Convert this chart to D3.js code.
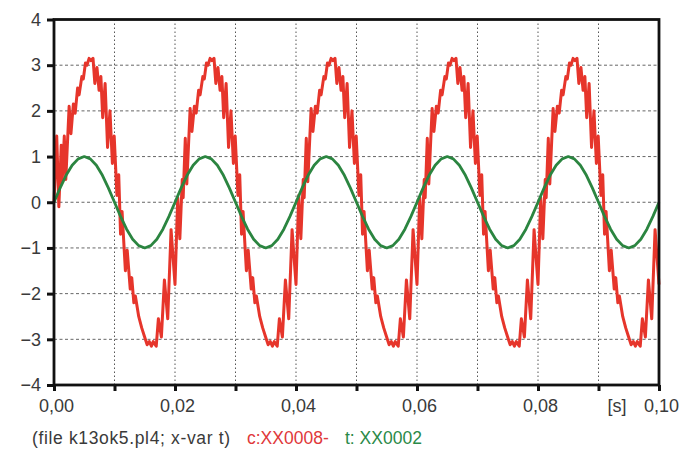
<!DOCTYPE html>
<html>
<head>
<meta charset="utf-8">
<script src="https://cdn.jsdelivr.net/npm/d3@7"></script>
<style>
  body { margin: 0; background: #fff; }
  svg { display: block; font-family: "Liberation Sans", Arial, sans-serif; }
</style>
</head>
<body>
<div id="chart"></div>
<script>
// time in ms
const redTime = [
  0, 0.45, 0.8, 1.2, 1.35, 1.7, 1.95, 2.5, 2.8, 3.2, 3.5, 3.9, 4.15, 4.6, 4.85, 5.2, 5.45, 5.8, 6.1, 6.45, 6.75, 7.1, 7.45, 7.75, 8.05, 8.45, 8.85, 9.25, 9.65, 9.95, 10.4, 10.7, 11.0, 11.25, 11.8, 12.1, 12.6, 12.85, 13.2, 13.45, 14.0, 14.5, 15.1, 15.4, 15.75, 16.1, 16.4, 16.9, 17.25, 17.75, 18.25, 18.8, 19.35,
  20, 20.45, 20.8, 21.2, 21.35, 21.7, 21.95, 22.5, 22.8, 23.2, 23.5, 23.9, 24.15, 24.6, 24.85, 25.2, 25.45, 25.8, 26.1, 26.45, 26.75, 27.1, 27.45, 27.75, 28.05, 28.45, 28.85, 29.25, 29.65, 29.95, 30.4, 30.7, 31.0, 31.25, 31.8, 32.1, 32.6, 32.85, 33.2, 33.45, 34.0, 34.5, 35.1, 35.4, 35.75, 36.1, 36.4, 36.9, 37.25, 37.75, 38.25, 38.8, 39.35,
  40, 40.45, 40.8, 41.2, 41.35, 41.7, 41.95, 42.5, 42.8, 43.2, 43.5, 43.9, 44.15, 44.6, 44.85, 45.2, 45.45, 45.8, 46.1, 46.45, 46.75, 47.1, 47.45, 47.75, 48.05, 48.45, 48.85, 49.25, 49.65, 49.95, 50.4, 50.7, 51.0, 51.25, 51.8, 52.1, 52.6, 52.85, 53.2, 53.45, 54.0, 54.5, 55.1, 55.4, 55.75, 56.1, 56.4, 56.9, 57.25, 57.75, 58.25, 58.8, 59.35,
  60, 60.45, 60.8, 61.2, 61.35, 61.7, 61.95, 62.5, 62.8, 63.2, 63.5, 63.9, 64.15, 64.6, 64.85, 65.2, 65.45, 65.8, 66.1, 66.45, 66.75, 67.1, 67.45, 67.75, 68.05, 68.45, 68.85, 69.25, 69.65, 69.95, 70.4, 70.7, 71.0, 71.25, 71.8, 72.1, 72.6, 72.85, 73.2, 73.45, 74.0, 74.5, 75.1, 75.4, 75.75, 76.1, 76.4, 76.9, 77.25, 77.75, 78.25, 78.8, 79.35,
  80, 80.45, 80.8, 81.2, 81.35, 81.7, 81.95, 82.5, 82.8, 83.2, 83.5, 83.9, 84.15, 84.6, 84.85, 85.2, 85.45, 85.8, 86.1, 86.45, 86.75, 87.1, 87.45, 87.75, 88.05, 88.45, 88.85, 89.25, 89.65, 89.95, 90.4, 90.7, 91.0, 91.25, 91.8, 92.1, 92.6, 92.85, 93.2, 93.45, 94.0, 94.5, 95.1, 95.4, 95.75, 96.1, 96.4, 96.9, 97.25, 97.75, 98.25, 98.8, 99.35, 100
];
const redValue = [
  0.0, 1.45, -0.1, 1.25, 0.45, 1.45, 0.5, 2.1, 1.5, 2.15, 1.95, 2.5, 2.35, 2.75, 2.7, 3.05, 3.0, 3.15, 3.1, 3.15, 2.6, 2.95, 2.45, 2.75, 1.85, 2.6, 1.2, 2.0, 0.85, 1.45, 0.15, 0.6, -0.7, -0.2, -1.5, -1.05, -1.9, -1.65, -2.2, -2.05, -2.5, -2.75, -3.0, -3.12, -3.05, -3.15, -3.05, -3.15, -2.55, -2.95, -1.7, -2.55, -0.6,
  -1.8, 0.1, -0.8, 0.5, 0.1, 1.4, 0.4, 2.05, 1.55, 2.1, 1.95, 2.45, 2.35, 2.75, 2.7, 3.05, 3.0, 3.15, 3.1, 3.15, 2.6, 2.95, 2.45, 2.75, 1.85, 2.6, 1.2, 2.0, 0.85, 1.45, 0.15, 0.6, -0.7, -0.2, -1.5, -1.05, -1.9, -1.65, -2.2, -2.05, -2.5, -2.75, -3.0, -3.12, -3.05, -3.15, -3.05, -3.15, -2.55, -2.95, -1.7, -2.55, -0.6,
  -1.8, 0.15, -0.8, 0.5, 0.1, 1.4, 0.45, 2.05, 1.55, 2.1, 1.95, 2.45, 2.35, 2.75, 2.7, 3.05, 3.0, 3.15, 3.1, 3.15, 2.6, 2.95, 2.45, 2.75, 1.85, 2.6, 1.2, 2.0, 0.85, 1.45, 0.15, 0.6, -0.7, -0.2, -1.5, -1.05, -1.9, -1.65, -2.2, -2.05, -2.5, -2.75, -3.0, -3.12, -3.05, -3.15, -3.05, -3.15, -2.55, -2.95, -1.7, -2.55, -0.6,
  -1.8, 0.1, -0.8, 0.5, 0.1, 1.4, 0.4, 2.05, 1.55, 2.1, 1.95, 2.45, 2.35, 2.75, 2.7, 3.05, 3.0, 3.15, 3.1, 3.15, 2.6, 2.95, 2.45, 2.75, 1.85, 2.6, 1.2, 2.0, 0.85, 1.45, 0.15, 0.6, -0.7, -0.2, -1.5, -1.05, -1.9, -1.65, -2.2, -2.05, -2.5, -2.75, -3.0, -3.12, -3.05, -3.15, -3.05, -3.15, -2.55, -2.95, -1.7, -2.55, -0.6,
  -1.8, 0.1, -0.8, 0.5, 0.1, 1.4, 0.4, 2.05, 1.55, 2.1, 1.95, 2.45, 2.35, 2.75, 2.7, 3.05, 3.0, 3.15, 3.1, 3.15, 2.6, 2.95, 2.45, 2.75, 1.85, 2.6, 1.2, 2.0, 0.85, 1.45, 0.15, 0.6, -0.7, -0.2, -1.5, -1.05, -1.9, -1.65, -2.2, -2.05, -2.5, -2.75, -3.0, -3.12, -3.05, -3.15, -3.05, -3.15, -2.55, -2.95, -1.7, -2.55, -0.6, -1.8
];
// green trace sampled every 1 ms
const greenValue = [
  0, 0.31, 0.59, 0.81, 0.95, 1, 0.95, 0.81, 0.59, 0.31, 0, -0.31, -0.59, -0.81, -0.95, -1, -0.95, -0.81, -0.59, -0.31,
  0, 0.31, 0.59, 0.81, 0.95, 1, 0.95, 0.81, 0.59, 0.31, 0, -0.31, -0.59, -0.81, -0.95, -1, -0.95, -0.81, -0.59, -0.31,
  0, 0.31, 0.59, 0.81, 0.95, 1, 0.95, 0.81, 0.59, 0.31, 0, -0.31, -0.59, -0.81, -0.95, -1, -0.95, -0.81, -0.59, -0.31,
  0, 0.31, 0.59, 0.81, 0.95, 1, 0.95, 0.81, 0.59, 0.31, 0, -0.31, -0.59, -0.81, -0.95, -1, -0.95, -0.81, -0.59, -0.31,
  0, 0.31, 0.59, 0.81, 0.95, 1, 0.95, 0.81, 0.59, 0.31, 0, -0.31, -0.59, -0.81, -0.95, -1, -0.95, -0.81, -0.59, -0.31,
  0
];
const greenTime = d3.range(0, greenValue.length);

const xTicks = [0, 10, 20, 30, 40, 50, 60, 70, 80, 90, 100];
const xTickLabels = {0: "0,00", 20: "0,02", 40: "0,04", 60: "0,06", 80: "0,08", 100: "0,10"};
const yTicks = [-4, -3, -2, -1, 0, 1, 2, 3, 4];

const W = 700, H = 464;
const plotLeft = 54, plotRight = 659, plotTop = 19.5, plotBottom = 385;

const svg = d3.select("#chart").append("svg")
  .attr("width", W)
  .attr("height", H);

const x = d3.scaleLinear().domain([0, 100]).range([plotLeft, plotRight]);
const y = d3.scaleLinear().domain([-4, 4]).range([plotBottom, plotTop]);

// grid
svg.append("g")
  .selectAll("line")
  .data(xTicks.slice(1, -1))
  .join("line")
  .attr("x1", d => x(d)).attr("x2", d => x(d))
  .attr("y1", plotTop).attr("y2", plotBottom)
  .attr("stroke", "#555")
  .attr("stroke-width", 1)
  .attr("stroke-dasharray", "1.5,2.5");

svg.append("g")
  .selectAll("line")
  .data(yTicks.slice(1, -1))
  .join("line")
  .attr("x1", plotLeft).attr("x2", plotRight)
  .attr("y1", d => y(d)).attr("y2", d => y(d))
  .attr("stroke", "#666")
  .attr("stroke-width", 1)
  .attr("stroke-dasharray", "3,2.5");

// traces
const line = d3.line().x(d => x(d[0])).y(d => y(d[1]));

svg.append("path")
  .datum(redTime.map((t, i) => [t, redValue[i]]))
  .attr("d", line)
  .attr("fill", "none")
  .attr("stroke", "#e6352b")
  .attr("stroke-width", 3)
  .attr("stroke-linejoin", "round");

svg.append("path")
  .datum(greenTime.map((t, i) => [t, greenValue[i]]))
  .attr("d", line)
  .attr("fill", "none")
  .attr("stroke", "#2b8540")
  .attr("stroke-width", 2.8)
  .attr("stroke-linejoin", "round");

// axes
const yAxis = svg.append("g")
  .attr("transform", `translate(${plotLeft},0)`)
  .call(d3.axisLeft(y).tickValues(yTicks).tickSize(7).tickSizeOuter(0).tickPadding(6));

const xAxis = svg.append("g")
  .attr("transform", `translate(0,${plotBottom})`)
  .call(d3.axisBottom(x).tickValues(xTicks).tickSize(6).tickSizeOuter(0).tickPadding(8)
    .tickFormat(d => xTickLabels[d] || ""));

[yAxis, xAxis].forEach(g => {
  g.select(".domain").remove();
  g.selectAll(".tick line").attr("stroke", "#111").attr("stroke-width", 3);
  g.selectAll("text")
    .attr("fill", "#3a3a3a")
    .style("font-size", "18px");
});
xAxis.selectAll("text").attr("dx", 2);

// frame
svg.append("rect")
  .attr("x", plotLeft).attr("y", plotTop)
  .attr("width", plotRight - plotLeft).attr("height", plotBottom - plotTop)
  .attr("fill", "none")
  .attr("stroke", "#111")
  .attr("stroke-width", 2.8);

svg.append("text")
  .attr("x", 617).attr("y", 412)
  .attr("text-anchor", "middle")
  .attr("fill", "#3a3a3a")
  .style("font-size", "18px")
  .text("[s]");

// caption line
const cap = svg.append("g").style("font-size", "17.5px");
cap.append("text")
  .attr("x", 32).attr("y", 444)
  .attr("fill", "#3a3a3a")
  .attr("textLength", 198)
  .attr("lengthAdjust", "spacing")
  .text("(file k13ok5.pl4; x-var t)");
cap.append("text")
  .attr("x", 247).attr("y", 444)
  .attr("fill", "#e0383a")
  .text("c:XX0008-");
cap.append("text")
  .attr("x", 345).attr("y", 444)
  .attr("fill", "#2a8a48")
  .text("t: XX0002");
</script>
</body>
</html>
